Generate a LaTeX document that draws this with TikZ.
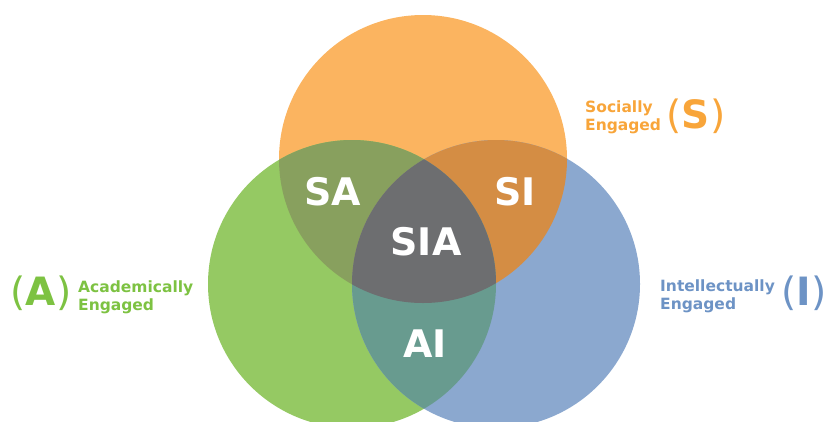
\documentclass[tikz,border=0pt]{standalone}
\usepackage{fontspec}
\setsansfont{DejaVu Sans}
\usepackage{tikz}

\definecolor{sorange}{RGB}{251,180,96}
\definecolor{agreen}{RGB}{149,201,99}
\definecolor{iblue}{RGB}{139,168,207}
\definecolor{sacol}{RGB}{136,160,94}
\definecolor{sicol}{RGB}{212,141,68}
\definecolor{aicol}{RGB}{104,155,143}
\definecolor{siacol}{RGB}{109,110,112}
\definecolor{stext}{RGB}{248,165,58}
\definecolor{atext}{RGB}{125,194,66}
\definecolor{itext}{RGB}{109,147,197}

\newcommand{\setletter}[1]{{\mdseries(}#1{\mdseries)}}

\begin{document}
\begin{tikzpicture}[x=1pt, y=-1pt,
                    region/.style={font=\sffamily\bfseries\fontsize{38}{38}\selectfont, text=white},
                    side text/.style={font=\sffamily\bfseries\fontsize{15.5}{18}\selectfont, align=left, anchor=west, inner sep=0pt},
                    paren/.style={font=\sffamily\bfseries\fontsize{39}{39}\selectfont, inner sep=0pt}]

  \useasboundingbox (0,0) rectangle (829,421);
  \clip (0,0) rectangle (829,421);

  % the three sets
  \coordinate (s) at (423,159);
  \coordinate (a) at (352,284);
  \coordinate (i) at (496,284);
  \def\rad{144pt}

  \fill[sorange] (s) circle (\rad);
  \fill[agreen] (a) circle (\rad);
  \fill[iblue] (i) circle (\rad);

  % overlaps
  \begin{scope}
    \clip (s) circle (\rad);
    \fill[sacol] (a) circle (\rad);
    \fill[sicol] (i) circle (\rad);
  \end{scope}
  \begin{scope}
    \clip (a) circle (\rad);
    \fill[aicol] (i) circle (\rad);
    \clip (i) circle (\rad);
    \fill[siacol] (s) circle (\rad);
  \end{scope}

  \node[region] (sa) at (333,192) {SA};
  \node[region] (si) at (515,192) {SI};
  \node[region] (sia) at (426,242) {SIA};
  \node[region] (ai) at (425,344) {AI};

  % side labels
  \node[side text, text=stext] (soc) at (585,117) {Socially\\Engaged};
  \node[paren, text=stext] (sletter) at (696,116) {\setletter{S}};

  \node[paren, text=atext] (aletter) at (41,293) {\setletter{A}};
  \node[side text, text=atext] (acad) at (78,297) {Academically\\Engaged};

  \node[side text, text=itext] (intel) at (660,296) {Intellectually\\Engaged};
  \node[paren, text=itext] (iletter) at (804,293) {\setletter{I}};
\end{tikzpicture}
\end{document}
